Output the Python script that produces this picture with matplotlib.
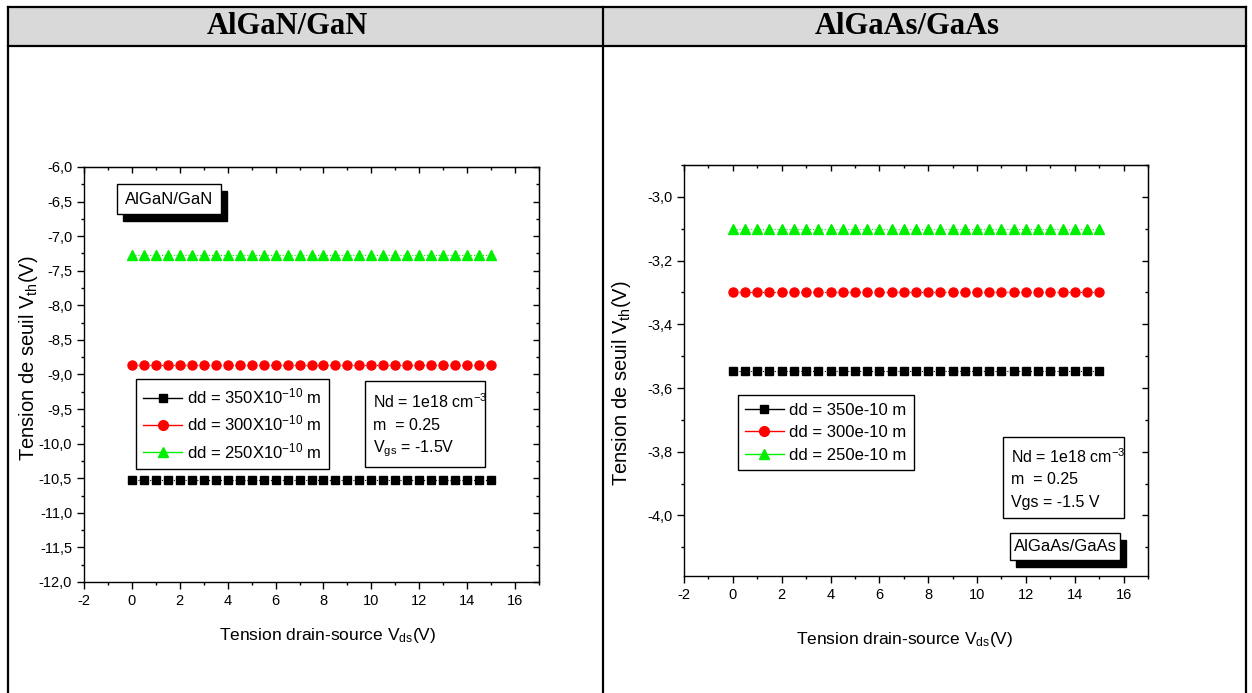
# -*- coding: utf-8 -*-

import numpy as np
import matplotlib.pyplot as plt
from matplotlib.patches import Rectangle
from matplotlib.lines import Line2D
from matplotlib.ticker import MultipleLocator, FuncFormatter

plt.rcParams['font.family'] = ['Liberation Sans', 'DejaVu Sans']
plt.rcParams['mathtext.default'] = 'regular'
plt.rcParams['axes.unicode_minus'] = False

# donnees
vds = [0, 0.5, 1, 1.5, 2, 2.5, 3, 3.5, 4, 4.5, 5, 5.5, 6, 6.5, 7, 7.5,
       8, 8.5, 9, 9.5, 10, 10.5, 11, 11.5, 12, 12.5, 13, 13.5, 14, 14.5, 15]

gan_350 = [-10.52] * 31
gan_300 = [-8.86] * 31
gan_250 = [-7.27] * 31

gaas_350 = [-3.545] * 31
gaas_300 = [-3.30] * 31
gaas_250 = [-3.10] * 31

gan_labels = ['dd = 350X10$^{-10}$ m', 'dd = 300X10$^{-10}$ m', 'dd = 250X10$^{-10}$ m']
gaas_labels = ['dd = 350e-10 m', 'dd = 300e-10 m', 'dd = 250e-10 m']
headers = ['AlGaN/GaN', 'AlGaAs/GaAs']

W, H = 1252, 693
colors = ['black', '#ff0000', '#00ee00']
markers = ['s', 'o', '^']
msizes = [5.5, 6.5, 7]


def fx(x):
    return x / W


def fy(y):
    return 1 - y / H


fig = plt.figure(figsize=(W / 100, H / 100), dpi=100)

# tableau (en-tete gris + traits)
fig.add_artist(Rectangle((fx(7.5), fy(46)), fx(1246) - fx(7.5), fy(7) - fy(46),
                         transform=fig.transFigure, fc='#d9d9d9', ec='none', zorder=0))
for y in [7, 46]:
    fig.add_artist(Line2D([fx(7.5), fx(1246)], [fy(y), fy(y)], transform=fig.transFigure,
                          color='black', lw=1.6))
for x in [7.5, 603, 1246]:
    fig.add_artist(Line2D([fx(x), fx(x)], [fy(7), fy(693)], transform=fig.transFigure,
                          color='black', lw=1.6))
for hx, txt in zip([287, 907], headers):
    fig.text(fx(hx), fy(27), txt, family='Liberation Serif', weight='bold', size=22,
             ha='center', va='center')

ax1 = fig.add_axes([fx(84), fy(582), (539 - 84) / W, (582 - 167) / H])
ax2 = fig.add_axes([fx(684), fy(576), (1148 - 684) / W, (576 - 165) / H])

comma = FuncFormatter(lambda v, p: ('%.1f' % v).replace('.', ','))


def style(ax, ymaj, ymin):
    ax.set_xlim(-2, 17)
    ax.xaxis.set_major_locator(MultipleLocator(2))
    ax.xaxis.set_minor_locator(MultipleLocator(1))
    ax.yaxis.set_major_locator(MultipleLocator(ymaj))
    ax.yaxis.set_minor_locator(MultipleLocator(ymin))
    ax.yaxis.set_major_formatter(comma)
    ax.tick_params(which='both', direction='out', labelsize=10.5, width=1)
    ax.tick_params(which='major', length=5)
    ax.tick_params(which='minor', length=2.5)
    for s in ax.spines.values():
        s.set_linewidth(1)
    top = ax.secondary_xaxis('top')
    top.xaxis.set_major_locator(MultipleLocator(2))
    top.xaxis.set_minor_locator(MultipleLocator(1))
    top.tick_params(which='both', direction='in', labeltop=False, width=1)
    top.tick_params(which='major', length=4)
    top.tick_params(which='minor', length=2)
    right = ax.secondary_yaxis('right')
    right.yaxis.set_major_locator(MultipleLocator(ymaj))
    right.yaxis.set_minor_locator(MultipleLocator(ymin))
    right.tick_params(which='both', direction='in', labelright=False, width=1)
    right.tick_params(which='major', length=4)
    right.tick_params(which='minor', length=2)


# AlGaN/GaN
for ys, c, m, ms in zip([gan_350, gan_300, gan_250], colors, markers, msizes):
    ax1.plot(vds, ys, color=c, marker=m, markersize=ms, ls=':', lw=0.8)
ax1.set_ylim(-12, -6)
style(ax1, 0.5, 0.25)

# AlGaAs/GaAs
for ys, c, m, ms in zip([gaas_350, gaas_300, gaas_250], colors, markers, msizes):
    ax2.plot(vds, ys, color=c, marker=m, markersize=ms, ls=':', lw=0.8)
ax2.set_ylim(-4.19, -2.9)
style(ax2, 0.2, 0.1)

for ax, lx, ly in [(ax1, 0.536, -0.128), (ax2, 0.476, -0.155)]:
    ax.set_xlabel('Tension drain-source V$_{ds}$(V)', fontsize=12.5, va='center')
    ax.xaxis.set_label_coords(lx, ly)
for ax, lx, ly in [(ax1, -0.121, 0.54), (ax2, -0.135, 0.47)]:
    ax.set_ylabel('Tension de seuil V$_{th}$(V)', fontsize=14.5, va='center')
    ax.yaxis.set_label_coords(lx, ly)

# legendes
for ax, labels, bx, by in [(ax1, gan_labels, 0.114, 0.489), (ax2, gaas_labels, 0.116, 0.440)]:
    handles = [Line2D([], [], color=c, marker=m, markersize=ms + 0.5, lw=1)
               for c, m, ms in zip(colors, markers, msizes)]
    leg = ax.legend(handles, labels, loc='upper left', bbox_to_anchor=(bx, by),
                    borderaxespad=0, fancybox=False, edgecolor='black', framealpha=1,
                    fontsize=12, handlelength=2.3, handletextpad=0.3,
                    labelspacing=0.45, borderpad=0.45)
    leg.get_frame().set_linewidth(1)


def info_box(x0, y0, x1, y1, tx, lines_y, lines):
    fig.add_artist(Rectangle((fx(x0), fy(y1)), fx(x1) - fx(x0), fy(y0) - fy(y1),
                             transform=fig.transFigure, fc='white', ec='black', lw=1))
    for ly, t in zip(lines_y, lines):
        fig.text(fx(tx), fy(ly), t, fontsize=11.5, ha='left', va='center')


info_box(365, 381, 485, 467, 373, [402, 426, 449],
         ['Nd = 1e18 cm$^{-3}$', 'm  = 0.25', 'V$_{gs}$ = -1.5V'])
info_box(1003, 437, 1124, 518, 1011, [457, 480, 503],
         ['Nd = 1e18 cm$^{-3}$', 'm  = 0.25', 'Vgs = -1.5 V'])


def shadow_box(x0, y0, x1, y1, txt):
    fig.add_artist(Rectangle((fx(x0 + 6), fy(y1 + 7)), fx(x1) - fx(x0), fy(y0) - fy(y1),
                             transform=fig.transFigure, fc='black', ec='black'))
    fig.add_artist(Rectangle((fx(x0), fy(y1)), fx(x1) - fx(x0), fy(y0) - fy(y1),
                             transform=fig.transFigure, fc='white', ec='black', lw=1))
    fig.text(fx((x0 + x1) / 2), fy((y0 + y1) / 2), txt, fontsize=12, ha='center', va='center')


shadow_box(117, 184, 221, 214, 'AlGaN/GaN')
shadow_box(1010, 533, 1120, 560, 'AlGaAs/GaAs')

plt.savefig('out.png', dpi=100)
